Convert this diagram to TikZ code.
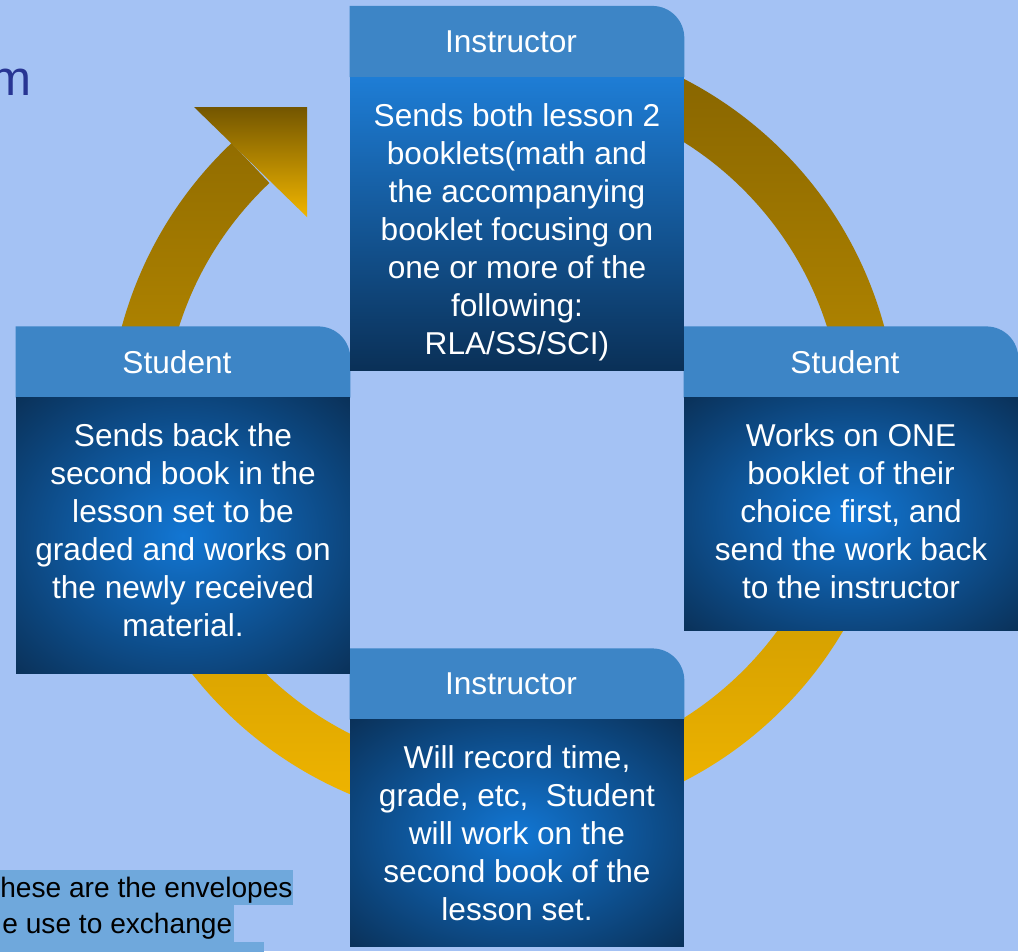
\documentclass[tikz,border=0pt]{standalone}
\usepackage{fontspec}
\setmainfont{Liberation Sans}
\usetikzlibrary{positioning}
\definecolor{pagebg}{HTML}{A4C2F4}
\definecolor{hdrblue}{HTML}{3D85C6}
\definecolor{glowin}{HTML}{1276D3}
\definecolor{glowout}{HTML}{0A3057}
\definecolor{marker}{HTML}{6FA8DC}
\definecolor{ringtop}{HTML}{7D5D00}
\definecolor{ringbot}{HTML}{F8BB00}
\definecolor{titleblue}{HTML}{283593}
\pgfdeclareradialshading{boxglow}{\pgfpoint{0bp}{0bp}}{color(0bp)=(glowin); color(36bp)=(glowout); color(50bp)=(glowout)}
\pgfdeclarelayer{back}
\pgfsetlayers{back,main}
\newcommand{\panelfont}{\fontsize{18}{21.6}\selectfont}
\newcommand{\notefont}{\fontsize{16}{20.5}\selectfont}
\begin{document}
\begin{tikzpicture}[x=0.02cm, y=0.02cm,
    hdr/.style={minimum width=6.68cm, minimum height=1.41cm, inner sep=0pt, text=white, font=\panelfont,
        execute at begin node=\hspace*{-0.24cm}},
    panel/.style={minimum width=6.68cm, inner sep=0pt, shade, shading=boxglow},
    blurb/.style={inner sep=0pt, text=white, font=\panelfont, align=center},
    note/.style={fill=marker, inner sep=0pt, text=black, font=\notefont, anchor=base west}]
    \useasboundingbox (0,0) rectangle (1018,-951);
    \coordinate (hub) at (503,-430);
    \begin{pgfonlayer}{back}
    \fill[pagebg] (0,0) rectangle (1018,-951);
    % cycle arrow
    \shade[top color=ringtop, bottom color=ringbot] ([shift={(105:395)}]hub) arc[start angle=105, end angle=-226.6, radius=395]
        -- ([shift={(-226.6:340)}]hub) arc[start angle=-226.6, end angle=105, radius=340] -- cycle;
    \shade[top color=ringtop!92!black, bottom color=ringbot!97!black] (194,-107) -- (307,-107) -- (307,-217) -- cycle;
    \end{pgfonlayer}
    \node[anchor=base west, inner sep=0pt, text=titleblue, font=\fontsize{28}{34}\selectfont] (title) at (-10,-95) {m};
    \node[note, minimum width=5.84cm, text height=15.4pt, text depth=4.6pt] (note1) at (0,-897) {hese are the envelopes};
    \node[note, minimum width=4.68cm, text height=15.9pt, text depth=5.1pt] (note2) at (0,-933) {e use to exchange};
    \node[note, anchor=north west, minimum width=5.28cm, minimum height=0.3cm] (note3) at (0,-942) {};
    % headers
    \node[hdr] (hT) at (517,-41.5) {Instructor};
    \node[hdr] (hR) at (851,-362) {Student};
    \node[hdr] (hB) at (517,-684) {Instructor};
    \node[hdr] (hL) at (183,-362) {Student};
    % panels
    \node[panel, top color=glowin!95!white, bottom color=glowout, minimum height=5.86cm, below=0pt of hT] (pT) {};
    \node[panel, minimum height=4.66cm, below=0pt of hR] (pR) {};
    \node[panel, minimum height=4.54cm, below=0pt of hB] (pB) {};
    \node[panel, minimum height=5.52cm, below=0pt of hL] (pL) {};
    \node[blurb, below=0.52cm of hT] (tT) {Sends both lesson 2\\booklets(math and\\the accompanying\\booklet focusing on\\one or more of the\\following:\\RLA/SS/SCI)};
    \node[blurb, below=0.52cm of hR] (tR) {Works on ONE\\booklet of their\\choice first, and\\send the work back\\to the instructor};
    \node[blurb, below=0.52cm of hB] (tB) {Will record time,\\grade, etc,\ \ Student\\will work on the\\second book of the\\lesson set.};
    \node[blurb, below=0.52cm of hL] (tL) {Sends back the\\second book in the\\lesson set to be\\graded and works on\\the newly received\\material.};
    \begin{pgfonlayer}{back}
    \foreach \h in {hT,hR,hB,hL}
        \fill[hdrblue] (\h.south west) -- (\h.north west) -- ([xshift=-0.64cm]\h.north east)
            arc[start angle=90, end angle=0, radius=0.64cm] -- (\h.south east) -- cycle;
    \end{pgfonlayer}
\end{tikzpicture}
\end{document}
